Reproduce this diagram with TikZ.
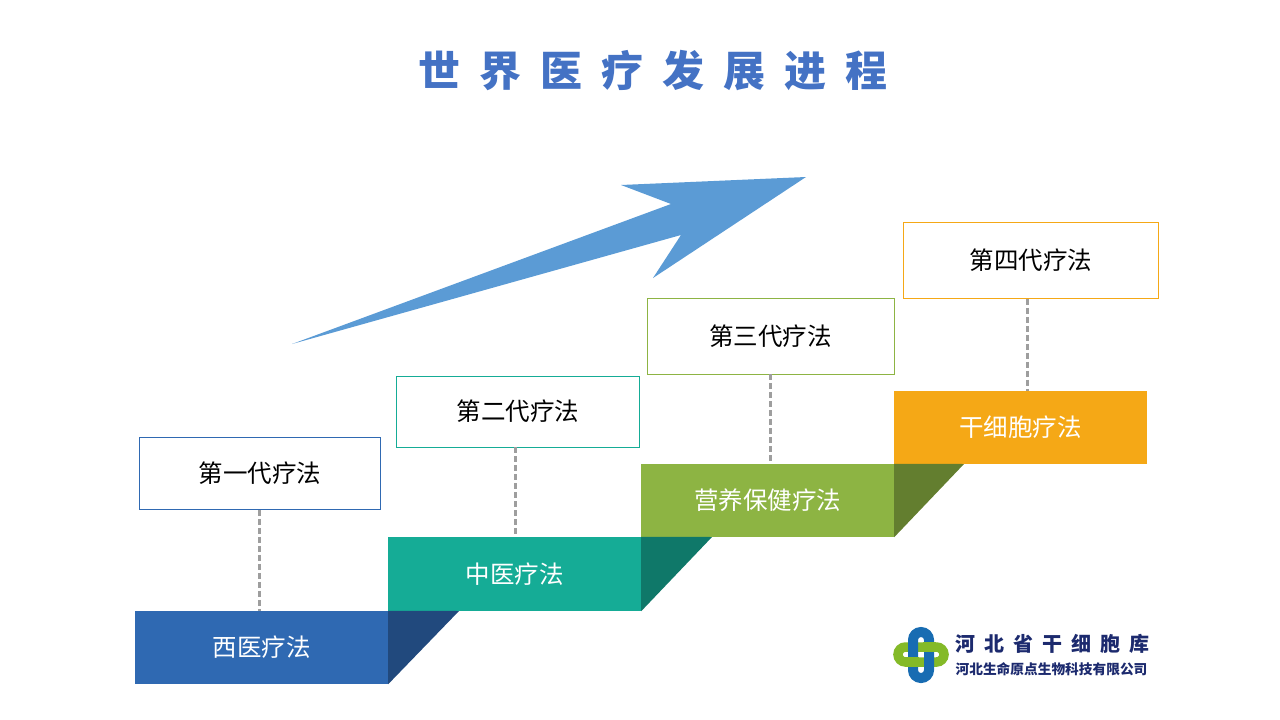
\documentclass[tikz,border=0pt]{standalone}
\usepackage{fontspec}
\setmainfont{Noto Sans CJK SC}
\usepackage{xcolor}
\definecolor{titleblue}{RGB}{68, 114, 196}
\definecolor{arrowblue}{RGB}{91, 155, 213}
\definecolor{stepblue}{RGB}{47, 105, 178}
\definecolor{stepteal}{RGB}{21, 172, 150}
\definecolor{stepgreen}{RGB}{141, 180, 67}
\definecolor{steporange}{RGB}{245, 168, 22}
\definecolor{logonavy}{RGB}{28, 42, 110}
\definecolor{logoblue}{RGB}{24, 108, 178}
\definecolor{logogreen}{RGB}{132, 186, 40}
\usetikzlibrary{positioning}
\tikzset{
  stepbox/.style={fill=#1, minimum width=253pt, minimum height=73pt, inner sep=0pt, text=white, font=\fontsize{24.5}{25}\selectfont},
  genbox/.style={draw=#1, fill=white, line width=0.8pt, inner sep=0pt, font=\fontsize{24.5}{25}\selectfont},
  linkline/.style={draw=black!38, line width=3pt, dash pattern=on 6pt off 3pt}
}
\begin{document}
\begin{tikzpicture}[x=1pt, y=-1pt]
  \useasboundingbox (0,0) rectangle (1280,720);

  % Title
  \node (title) at (653,70.5) {\color{titleblue}\fontsize{42}{42}\bfseries\selectfont 世\hspace{19pt}界\hspace{19pt}医\hspace{19pt}疗\hspace{19pt}发\hspace{19pt}展\hspace{19pt}进\hspace{19pt}程};

  % Big arrow
  \fill[arrowblue] (292,344) -- (671,204) -- (621,185) -- (806,177) -- (653,278) -- (681,235) -- cycle;

  % Steps
  \node[stepbox=stepblue] (stepone) at (261.5,647.5) {西医疗法};
  \node[stepbox=stepteal, minimum height=74pt] (steptwo) at (514.5,574) {中医疗法};
  \node[stepbox=stepgreen] (stepthree) at (767.5,500.5) {营养保健疗法};
  \node[stepbox=steporange] (stepfour) at (1020.5,427.5) {干细胞疗法};

  % Shadow wedges
  \fill[stepblue!70!black] (stepone.north east) -- (459,611) -- (stepone.south east) -- cycle;
  \fill[stepteal!70!black] (steptwo.north east) -- (712,537) -- (steptwo.south east) -- cycle;
  \fill[stepgreen!70!black] (stepthree.north east) -- (964,464) -- (stepthree.south east) -- cycle;

  % Generation boxes
  \node[genbox=stepblue, minimum width=241pt, minimum height=72pt] (genone) at (260,473.5) {第一代疗法};
  \node[genbox=stepteal, minimum width=243pt, minimum height=71pt] (gentwo) at (518,411.5) {第二代疗法};
  \node[genbox=stepgreen, minimum width=247pt, minimum height=76pt] (genthree) at (770.5,336) {第三代疗法};
  \node[genbox=steporange, minimum width=255pt, minimum height=76pt] (genfour) at (1031,260.5) {\raisebox{2pt}{第四代疗法}};

  % Links
  \draw[linkline] ([xshift=-1pt]genone.south) -- ([xshift=-1pt]genone.south |- stepone.north);
  \draw[linkline] ([xshift=-3pt]gentwo.south) -- ([xshift=-3pt]gentwo.south |- steptwo.north);
  \draw[linkline] (genthree.south) -- (genthree.south |- stepthree.north);
  \draw[linkline] ([xshift=-4pt]genfour.south) -- ([xshift=-4pt]genfour.south |- stepfour.north);

  % Logo
  \draw[logogreen, line width=9.5pt, rounded corners=7.5pt] (898,647) rectangle (944,662);
  \draw[logoblue, line width=10pt, rounded corners=8pt] (913,632) rectangle (929,678);
  \draw[logogreen, line width=9.5pt] (923,647) -- (936,647);
  \draw[logogreen, line width=9.5pt] (906,662) -- (919,662);
  \node[text=logonavy, font=\fontsize{20}{20}\bfseries\selectfont, inner sep=0pt] (logoname) at (1052,644) {河\hspace{9pt}北\hspace{9pt}省\hspace{9pt}干\hspace{9pt}细\hspace{9pt}胞\hspace{9pt}库};
  \node[text=logonavy, font=\fontsize{13.7}{14}\bfseries\selectfont, inner sep=0pt] (logofirm) at (1051.5,669) {河北生命原点生物科技有限公司};
\end{tikzpicture}
\end{document}
